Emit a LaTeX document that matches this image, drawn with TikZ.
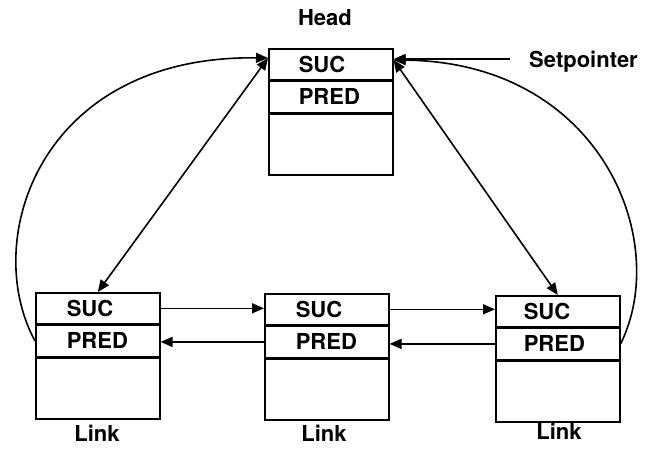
\documentclass[tikz,border=0pt]{standalone}
\usepackage{fontspec}
\setmainfont{TeX Gyre Heros}
\usetikzlibrary{arrows.meta}
\begin{document}
\begin{tikzpicture}[x=1pt,y=-1pt,
  lbl/.style={font=\fontsize{22}{26}\selectfont\bfseries, inner sep=0pt},
  row/.style={draw, line width=1.6pt, minimum width=124pt, minimum height=31pt,
    inner sep=0pt, anchor=north west, text width=124pt, align=left,
    font=\fontsize{22}{26}\selectfont\bfseries},
  body/.style={row, minimum height=61pt},
  conn/.style={line width=1.6pt},
  tip/.style={conn, -{Triangle[length=12pt,width=10pt]}},
  both/.style={conn, {Triangle[length=12pt,width=10pt]}-{Triangle[length=12pt,width=10pt]}}
]
\useasboundingbox (0,0) rectangle (646,450);
% Head
\node[row] (hs) at (268,48) {\hspace*{30pt}SUC};
\node[row] (hp) at (hs.south west) {\hspace*{30pt}PRED};
\node[body] (hb) at (hp.south west) {};
% Left link
\node[row] (as) at (35,292) {\hspace*{31pt}SUC};
\node[row] (ap) at (as.south west) {\hspace*{31pt}PRED};
\node[body] (ab) at (ap.south west) {};
% Middle link
\node[row] (ms) at (264,293) {\hspace*{31pt}SUC};
\node[row] (mp) at (ms.south west) {\hspace*{31pt}PRED};
\node[body] (mb) at (mp.south west) {};
% Right link
\node[row] (rs) at (495,295) {\hspace*{28pt}SUC};
\node[row] (rp) at (rs.south west) {\hspace*{28pt}PRED};
\node[body] (rb) at (rp.south west) {};
% Labels
\node[lbl, anchor=base] (head) at (325,25) {Head};
\node[lbl, anchor=base west] (setp) at (529,67) {Setpointer};
\node[lbl, anchor=base] (l1) at (97,441) {Link};
\node[lbl, anchor=base] (l2) at (324,441) {Link};
\node[lbl, anchor=base] (l3) at (559,439) {Link};
% Coordinates
\coordinate (hl) at ([yshift=-10pt]hs.north west);
\coordinate (hr) at ([yshift=-12pt]hs.north east);
\coordinate (sp) at (510,59);
% Connectors
\draw[tip] (sp) -- (sp -| hs.east);
\draw[both] (hl) -- (as.north);
\draw[both] (hr) -- (rs.north);
\draw[tip] (ap.west) .. controls (-20,240) and (40,55) .. (hl);
\draw[tip] (rp.east) .. controls (672,240) and (600,62) .. (hr);
\draw[tip] (as.east) -- (as.east -| ms.west);
\draw[tip] (mp.west) -- (mp.west -| ap.east);
\draw[tip] (ms.east) -- (ms.east -| rs.west);
\draw[tip] (rp.west) -- (rp.west -| mp.east);
\end{tikzpicture}
\end{document}
